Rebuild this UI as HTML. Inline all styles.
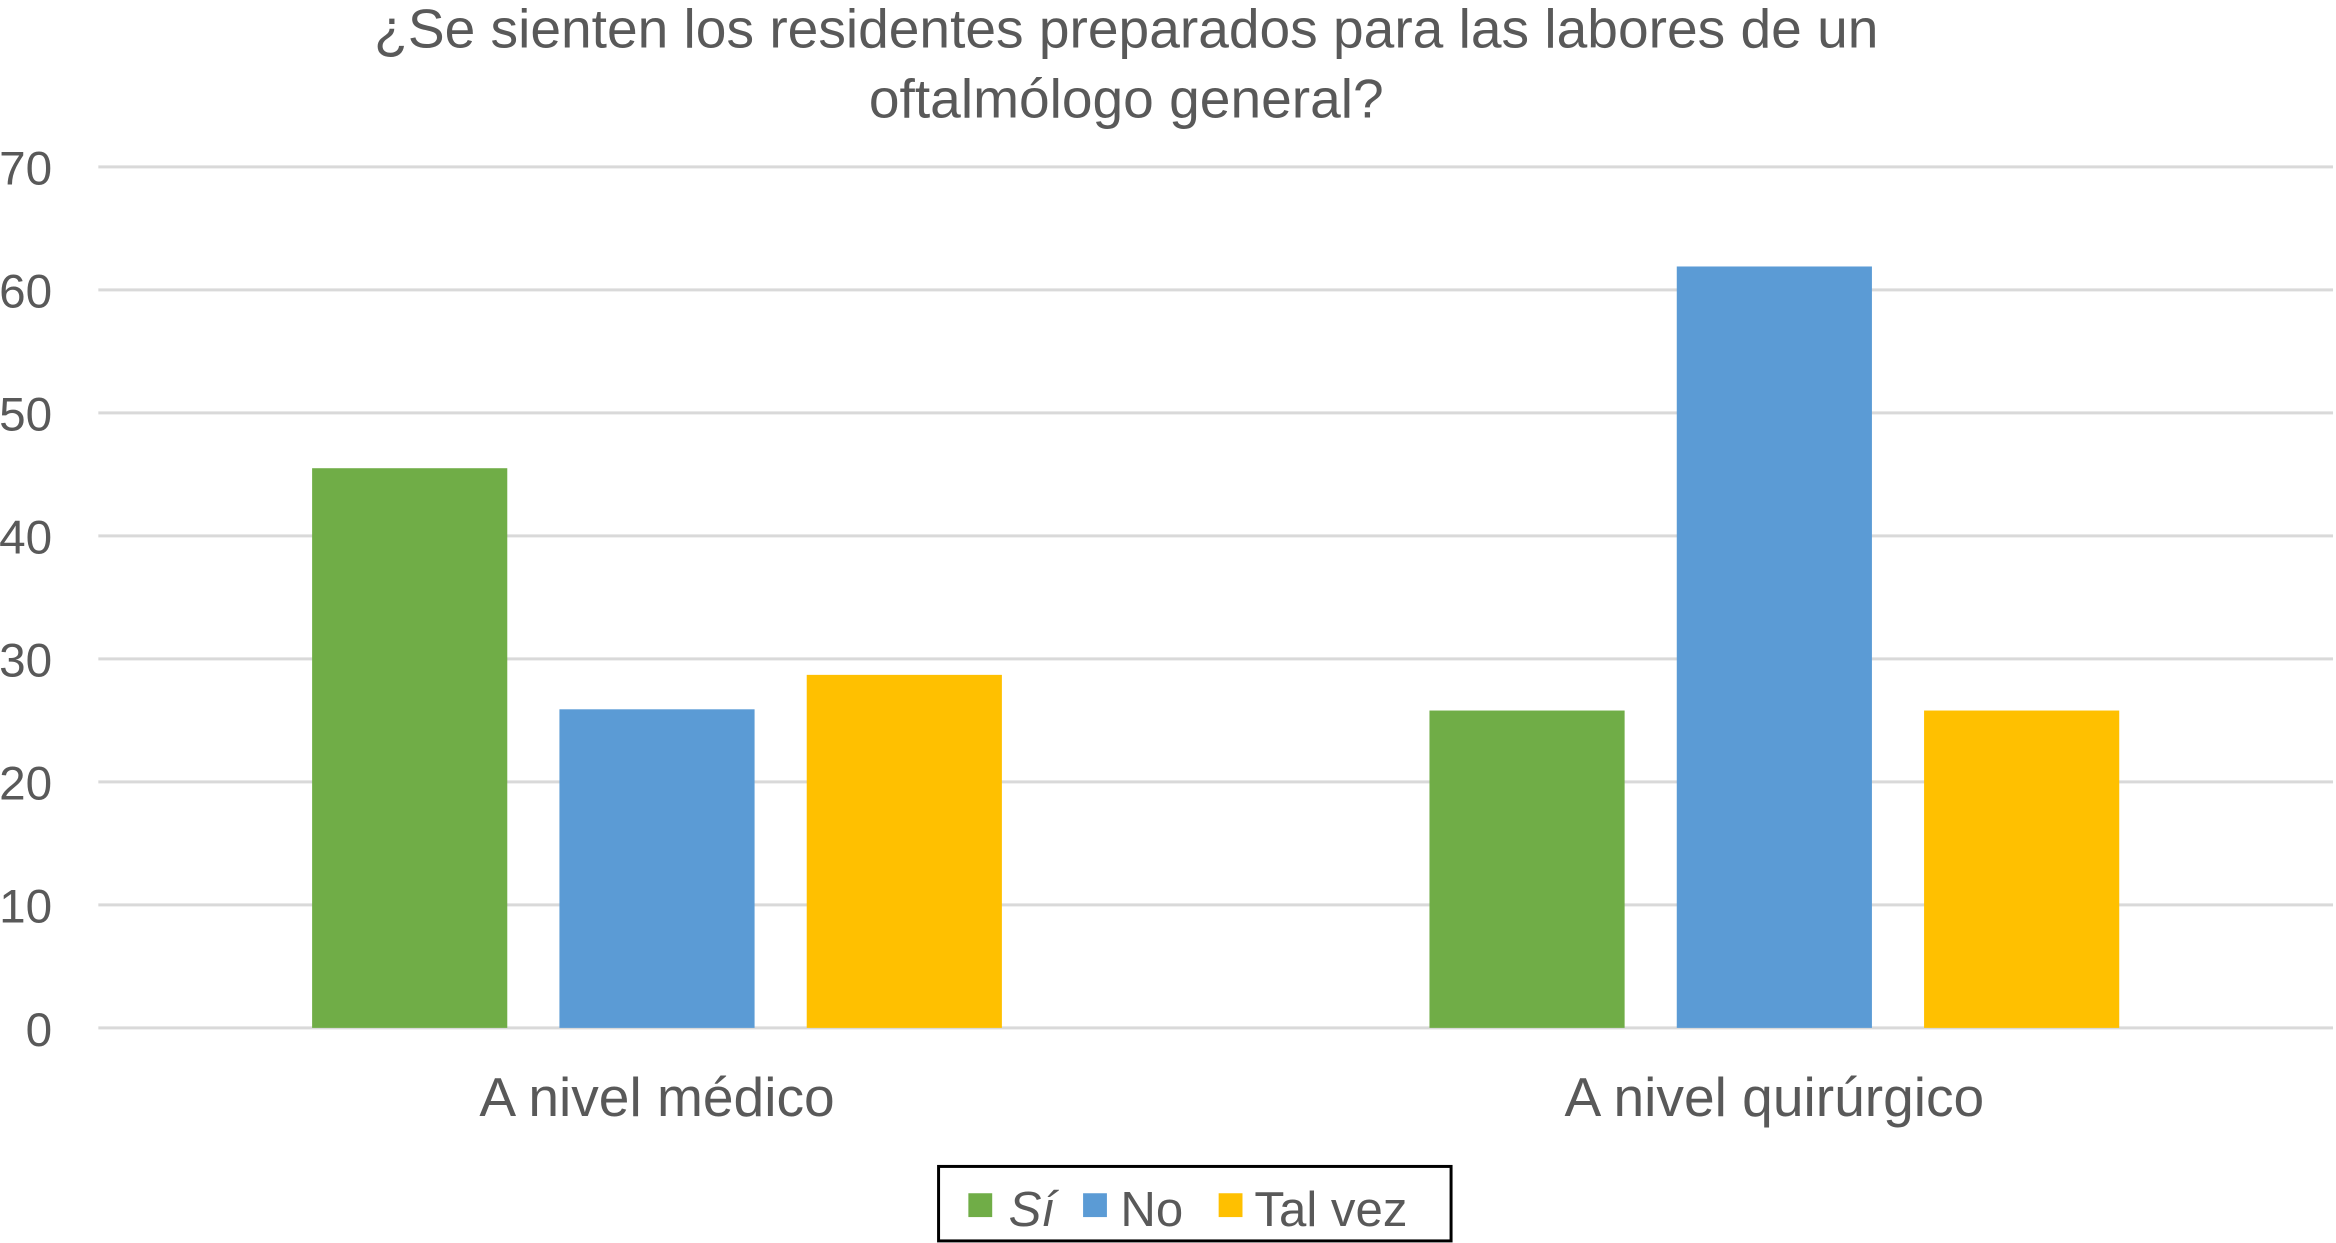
<!DOCTYPE html>
<html><head><meta charset="utf-8"><style>
html,body{margin:0;padding:0;background:#fff;}
svg{display:block;}
text{font-family:"Liberation Sans",Arial,sans-serif;fill:#595959;}
</style></head><body>
<svg id="chart" width="2336" height="1243" viewBox="0 0 1568 834.4" preserveAspectRatio="none" xmlns="http://www.w3.org/2000/svg">
<text x="756" y="32" font-size="37" text-anchor="middle">¿Se sienten los residentes preparados para las labores de un</text>
<text x="756" y="79" font-size="37" text-anchor="middle">oftalmólogo general?</text>
<g id="grid"></g>
<g id="bars"></g>
<g id="cats"></g>
<g>
<rect x="630" y="783" width="344" height="50" fill="#fff" stroke="#000" stroke-width="2"/>
<rect x="650" y="801" width="16" height="16" fill="#70AD47"/>
<text x="677" y="823" font-size="33" font-style="italic">Sí</text>
<rect x="727" y="801" width="16" height="16" fill="#5B9BD5"/>
<text x="752" y="823" font-size="33">No</text>
<rect x="818" y="801" width="16" height="16" fill="#FFC000"/>
<text x="842" y="823" font-size="33">Tal vez</text>
</g>
</svg>
<script>
const categories = ["A nivel médico", "A nivel quirúrgico"];
const seriesNames = ["Sí", "No", "Tal vez"];
const siValues = [45.5, 25.8];
const noValues = [25.9, 61.9];
const talVezValues = [28.7, 25.8];
const yTicks = [0, 10, 20, 30, 40, 50, 60, 70];

const NS = "http://www.w3.org/2000/svg";
const y0 = 690, y70 = 112, xL = 66, xR = 1566;
const colors = ["#70AD47", "#5B9BD5", "#FFC000"];
function yScale(v){ return y0 - (v/70)*(y0-y70); }
const groupW = (xR - xL) / categories.length;
function groupCenter(i){ return xL + groupW*(i+0.5); }
const barW = 131, step = 166;

const grid = document.getElementById('grid');
yTicks.forEach(t => {
  const l = document.createElementNS(NS,'line');
  l.setAttribute('x1', xL); l.setAttribute('x2', xR);
  l.setAttribute('y1', yScale(t)); l.setAttribute('y2', yScale(t));
  l.setAttribute('stroke', '#D9D9D9'); l.setAttribute('stroke-width', '2');
  
  
  grid.appendChild(l);
  const tx = document.createElementNS(NS,'text');
  tx.setAttribute('x', 35); tx.setAttribute('y', yScale(t)+12);
  tx.setAttribute('font-size', '32'); tx.setAttribute('text-anchor', 'end');
  tx.textContent = t;
  
  
  grid.appendChild(tx);
});

const bars = document.getElementById('bars');
const all = [siValues, noValues, talVezValues];
categories.forEach((c, i) => {
  const cx = groupCenter(i);
  all.forEach((vals, s) => {
    const r = document.createElementNS(NS,'rect');
    const x = cx + (s-1)*step - barW/2;
    r.setAttribute('x', x); r.setAttribute('width', barW);
    r.setAttribute('y', yScale(vals[i])); r.setAttribute('height', y0 - yScale(vals[i]));
    r.setAttribute('fill', colors[s]);
    
    
    bars.appendChild(r);
  });
  const t = document.createElementNS(NS,'text');
  t.setAttribute('x', cx); t.setAttribute('y', 749);
  t.setAttribute('font-size', '37'); t.setAttribute('text-anchor', 'middle');
  t.textContent = c;
  
  
  document.getElementById('cats').appendChild(t);
});
</script>
</body></html>
